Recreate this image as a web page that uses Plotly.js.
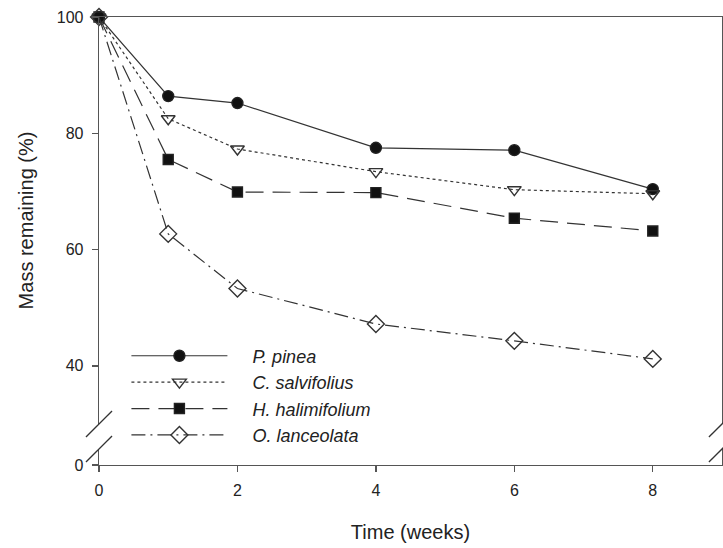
<!DOCTYPE html>
<html><head><meta charset="utf-8">
<script src="https://cdn.plot.ly/plotly-3.0.1.min.js"></script>
<style>html,body{margin:0;padding:0;background:#fff}#chart{width:723px;height:548px}</style>
</head><body><div id="chart"></div>
<script>
const weeks = [0, 1, 2, 4, 6, 8];
const pPinea = [100, 86.4, 85.2, 77.5, 77.1, 70.4];
const cSalvifolius = [100, 82.5, 77.3, 73.4, 70.3, 69.6];
const hHalimifolium = [100, 75.5, 69.9, 69.8, 65.4, 63.2];
const oLanceolata = [100, 62.7, 53.3, 47.2, 44.3, 41.2];
const seriesNames = ['P. pinea', 'C. salvifolius', 'H. halimifolium', 'O. lanceolata'];
const xTicks = [0, 2, 4, 6, 8];
const yTicksUpper = [40, 60, 80, 100];
const yTicksLower = [0];

const lineCol = '#333';
const mk = '#111';
const styles = [
  {dash: 'solid', symbol: 'circle', size: 11, color: mk},
  {dash: 'dot', symbol: 'triangle-down-open', size: 12, color: '#333'},
  {dash: '18px,9px', symbol: 'square', size: 10, color: mk},
  {dash: '14px,5px,2px,5px', symbol: 'diamond-open', size: 13, color: '#333'}
];
const values = [pPinea, cSalvifolius, hHalimifolium, oLanceolata];
const gap = '&nbsp;&nbsp;&nbsp;&nbsp;';
const traces = values.map((v, i) => ({
  type: 'scatter', mode: 'lines+markers', x: weeks, y: v,
  name: gap + '<i>' + seriesNames[i] + '</i>',
  xaxis: 'x', yaxis: 'y', cliponaxis: false,
  line: {color: lineCol, width: 1.2, dash: styles[i].dash},
  marker: {symbol: styles[i].symbol, size: styles[i].size, color: styles[i].color,
           line: {color: '#222', width: 1.4}}
}));
traces.push({type: 'scatter', x: [], y: [], xaxis: 'x2', yaxis: 'y2', showlegend: false, hoverinfo: 'skip'});

const axisCol = '#555';
const fam = 'Liberation Sans, Arial, sans-serif';
const tickFont = {family: fam, size: 16, color: '#222'};
const layout = {
  width: 723, height: 548,
  margin: {l: 99, r: 1, t: 17, b: 83},
  paper_bgcolor: '#fff', plot_bgcolor: '#fff',
  showlegend: true,
  legend: {x: 0.044, y: 0.2845, xanchor: 'left', yanchor: 'top', bgcolor: 'rgba(0,0,0,0)',
           font: {family: fam, size: 18, color: '#222'},
           itemwidth: 96, tracegroupgap: 6},
  xaxis: {domain: [0, 1], range: [0, 9], anchor: 'y', side: 'top', showline: true, linecolor: axisCol,
          linewidth: 1.3, showgrid: false, zeroline: false, ticks: '', showticklabels: false},
  xaxis2: {domain: [0, 1], range: [0, 9], anchor: 'y2', matches: 'x', showline: true, linecolor: axisCol,
           linewidth: 1.3, showgrid: false, zeroline: false, ticks: 'outside', ticklen: 6, tickwidth: 1.3,
           tickcolor: axisCol, tickvals: xTicks, tickfont: tickFont, ticklabelstandoff: 4,
           title: {text: 'Time (weeks)', font: {family: fam, size: 20, color: '#222'}, standoff: 27}},
  yaxis: {domain: [0.0915, 1], range: [30, 100], anchor: 'x', showline: true, mirror: true, linecolor: axisCol,
          linewidth: 1.3, showgrid: false, zeroline: false, ticks: 'outside', ticklen: 6, tickwidth: 1.3,
          tickcolor: axisCol, tickvals: yTicksUpper, tickfont: tickFont, ticklabelstandoff: 5,
          title: {text: 'Mass remaining (%)', font: {family: fam, size: 20, color: '#222'}, standoff: 17}},
  yaxis2: {domain: [0, 0.0357], range: [0, 2.75], anchor: 'x2', showline: true, mirror: true, linecolor: axisCol,
           linewidth: 1.3, showgrid: false, zeroline: false, ticks: 'outside', ticklen: 6, tickwidth: 1.3,
           tickcolor: axisCol, tickvals: yTicksLower, tickfont: tickFont, ticklabelstandoff: 5},
  shapes: [
    {type: 'line', xref: 'paper', yref: 'paper', x0: -0.0209, y0: 0.0625, x1: 0.0209, y1: 0.1205, line: {color: '#333', width: 1.3}},
    {type: 'line', xref: 'paper', yref: 'paper', x0: -0.0209, y0: 0.0067, x1: 0.0209, y1: 0.0647, line: {color: '#333', width: 1.3}},
    {type: 'line', xref: 'paper', yref: 'paper', x0: 0.979, y0: 0.0625, x1: 1.021, y1: 0.1205, line: {color: '#333', width: 1.3}},
    {type: 'line', xref: 'paper', yref: 'paper', x0: 0.979, y0: 0.0067, x1: 1.021, y1: 0.0647, line: {color: '#333', width: 1.3}}
  ]
};
Plotly.newPlot('chart', traces, layout, {staticPlot: true, displayModeBar: false});
</script></body></html>
